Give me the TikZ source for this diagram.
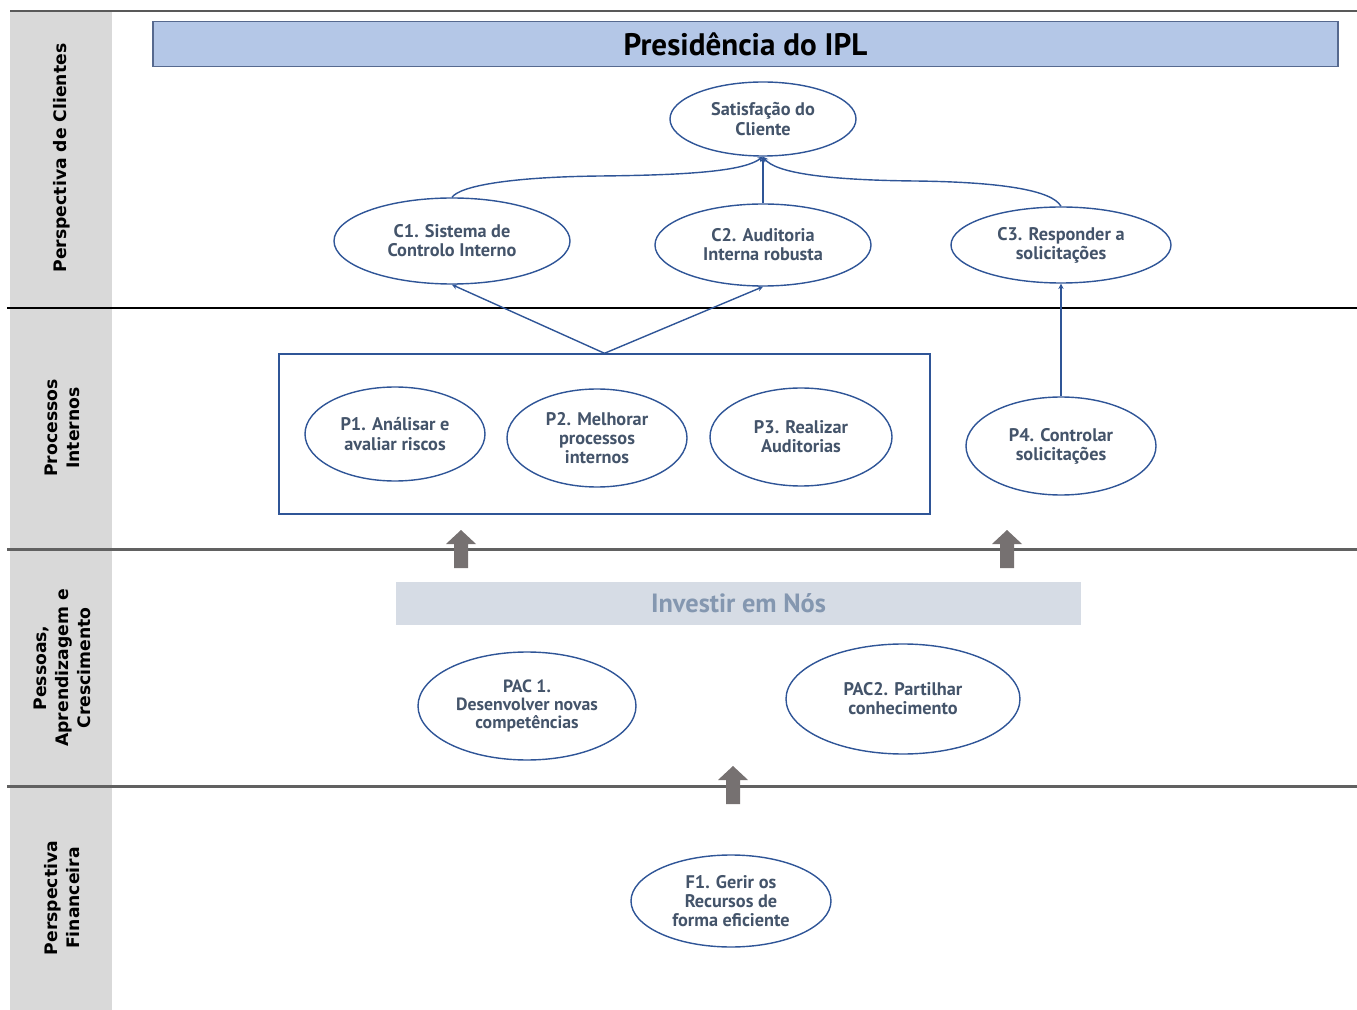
\documentclass[tikz,border=0pt]{standalone}
\usepackage{fontspec}
\setmainfont{PT Sans}
\newfontfamily\lblfont{DejaVu Sans}
\usetikzlibrary{shapes.geometric,arrows.meta}
\definecolor{lc}{HTML}{2F5597}
\definecolor{tc}{HTML}{44546A}
\definecolor{strip}{HTML}{D9D9D9}
\definecolor{titlefill}{HTML}{B4C7E7}
\definecolor{titledraw}{HTML}{56698F}
\definecolor{banfill}{HTML}{D6DCE5}
\definecolor{bantext}{HTML}{8497B0}
\definecolor{arrg}{HTML}{767171}
\tikzset{
  ell/.style 2 args={ellipse, draw=lc, line width=0.8pt, inner sep=0pt,
    minimum width=#1*0.02cm, minimum height=#2*0.02cm, align=center,
    text=tc, font=\fontsize{10.4}{10.9}\selectfont\bfseries},
  conn/.style={draw=lc, line width=0.8pt, -{Stealth[length=3pt,width=3pt]}},
  plainconn/.style={draw=lc, line width=0.8pt},
  lane/.style={rotate=90, align=center, font=\lblfont\fontsize{9.8}{12.6}\selectfont\bfseries},
  blockarrow/.style={fill=arrg, draw=none}
}
\begin{document}
\begin{tikzpicture}[x=0.02cm,y=-0.02cm]
\useasboundingbox (0,0) rectangle (1357,1010);
% left strip
\fill[strip] (10,11) rectangle (112,1010);
% lane separators
\draw[line width=0.6pt, draw=black!65] (10,11) -- (1357,11);
\draw[line width=0.7pt, draw=black] (7,308) -- (1357,308);
\draw[line width=1.3pt, draw=black!62] (7,549.5) -- (1357,549.5);
\draw[line width=1.2pt, draw=black!62] (7,786.5) -- (1357,786.5);
% lane labels
\node[lane] (L1) at (62,158) {Perspectiva de Clientes};
\node[lane] (L2) at (62,428) {Processos\\Internos};
\node[lane] (L3) at (62,668) {Pessoas,\\Aprendizagem e\\Crescimento};
\node[lane] (L4) at (62,898) {Perspectiva\\Financeira};
% title
\node[draw=titledraw, fill=titlefill, line width=0.6pt, minimum width=1185*0.02cm, minimum height=45*0.02cm,
  inner sep=0pt, font=\fontsize{17.7}{19}\selectfont\bfseries] (T) at (745.5,44) {Presidência do IPL};
% customer perspective
\node[ell={186}{74}] (S) at (763,119) {Satisfação do\\Cliente};
\node[ell={236}{86}] (C1) at (452,241) {C1. Sistema de\\Controlo Interno};
\node[ell={216}{82}] (C2) at (763,245) {C2. Auditoria\\Interna robusta};
\node[ell={220}{76}] (C3) at (1061,245) {C3. Responder a\\solicitações};
% internal processes
\node[draw=lc, line width=0.8pt, minimum width=651*0.02cm, minimum height=160*0.02cm, inner sep=0pt] (B) at (604.5,434) {};
\node[ell={180}{94}] (P1) at (395,434) {P1. Análisar e\\avaliar riscos};
\node[ell={180}{98}] (P2) at (597,438) {P2. Melhorar\\processos\\internos};
\node[ell={182}{98}] (P3) at (801,437) {P3. Realizar\\Auditorias};
\node[ell={190}{98}] (P4) at (1061,446) {P4. Controlar\\solicitações};
% people
\node[fill=banfill, minimum width=685*0.02cm, minimum height=43*0.02cm, inner sep=0pt,
  text=bantext, font=\fontsize{15}{17}\selectfont\bfseries] (I) at (738.5,603.5) {Investir em Nós};
\node[ell={218}{108}, font=\fontsize{10.1}{10.2}\selectfont\bfseries] (PAC1) at (527,706) {PAC 1.\\Desenvolver novas\\competências};
\node[ell={234}{110}] (PAC2) at (903,699) {PAC2. Partilhar\\conhecimento};
% financial
\node[ell={200}{92}] (F1) at (731,901) {F1. Gerir os\\Recursos de\\forma eficiente};
% connectors
\coordinate (m1) at (600,176);
\coordinate (m3) at (915,181);
\draw[plainconn] (C1.north) .. controls (460,186) and (510,177) .. (m1);
\draw[conn] (m1) .. controls (700,175) and (745,170) .. (S.south);
\draw[plainconn] (C3.north) .. controls (1052,190) and (1000,182) .. (m3);
\draw[conn] (m3) .. controls (820,180) and (775,172) .. (S.south);
\draw[conn] (C2.north) -- (S.south);
\draw[conn] (B.north) -- (C1.south);
\draw[conn] (B.north) -- (C2.south);
\draw[conn] (P4.north) -- (C3.south);
% block arrows
\foreach \ax/\ay in {461/530, 1007/530, 733/766} {
  \fill[blockarrow] (\ax,\ay) -- (\ax+15,\ay+14) -- (\ax+7,\ay+14) -- (\ax+7,\ay+38)
    -- (\ax-7,\ay+38) -- (\ax-7,\ay+14) -- (\ax-15,\ay+14) -- cycle;
}
\end{tikzpicture}
\end{document}
